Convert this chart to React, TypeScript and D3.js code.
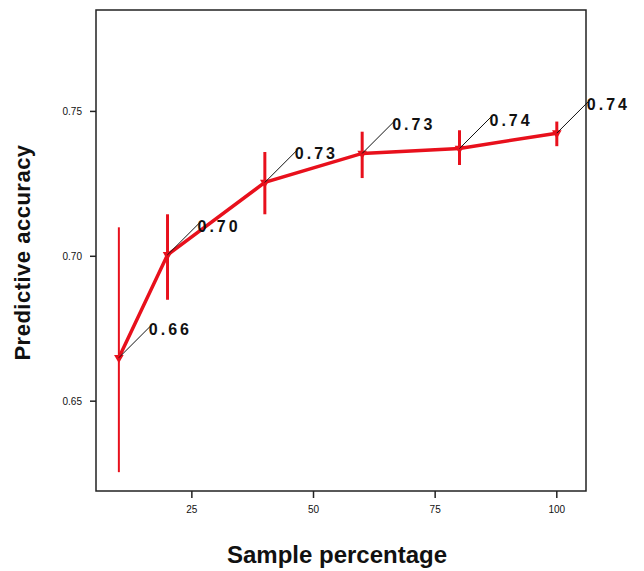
import React from "react";
import * as d3 from "d3";

// values
const samplePct = [10, 20, 40, 60, 80, 100];
const accuracy = [0.665, 0.7005, 0.7255, 0.7355, 0.7372, 0.7425];
const ciLow = [0.6255, 0.685, 0.7145, 0.727, 0.7315, 0.738];
const ciHigh = [0.71, 0.7145, 0.736, 0.743, 0.7435, 0.7465];
const pointLabels = ["0.66", "0.70", "0.73", "0.73", "0.74", "0.74"];
const xTicks = [25, 50, 75, 100];
const yTicks = [0.65, 0.7, 0.75];

const width = 644;
const height = 571;
const margin = { top: 10, right: 58, bottom: 80, left: 96 };
const red = "#e8101c";

export default function App() {
  const innerW = width - margin.left - margin.right;
  const innerH = height - margin.top - margin.bottom;

  const xScale = d3.scaleLinear().domain([5.3, 106]).range([0, innerW]);
  const yScale = d3.scaleLinear().domain([0.619, 0.785]).range([innerH, 0]);

  const rows = samplePct.map((x, i) => ({
    x,
    y: accuracy[i],
    lo: ciLow[i],
    hi: ciHigh[i],
    label: pointLabels[i],
  }));

  const line = d3
    .line<{ x: number; y: number }>()
    .x((d) => xScale(d.x))
    .y((d) => yScale(d.y));

  const tri = d3.symbol().type(d3.symbolTriangle).size(40)();

  return (
    <svg
      width={width}
      height={height}
      style={{ position: "absolute", left: 0, top: 0, background: "#fff" }}
      fontFamily="Arial, 'Liberation Sans', sans-serif"
    >
      <g transform={`translate(${margin.left},${margin.top})`}>
        <rect
          width={innerW}
          height={innerH}
          fill="none"
          stroke="#222"
          strokeWidth={1.5}
        />

        {/* y ticks */}
        {yTicks.map((t) => (
          <g key={t} transform={`translate(0,${yScale(t)})`}>
            <line x1={-6} x2={0} stroke="#222" strokeWidth={1.5} />
            <text x={-14} dy="0.35em" textAnchor="end" fontSize={10} fill="#111">
              {t.toFixed(2)}
            </text>
          </g>
        ))}

        {/* x ticks */}
        {xTicks.map((t) => (
          <g key={t} transform={`translate(${xScale(t)},${innerH})`}>
            <line y1={0} y2={7} stroke="#222" strokeWidth={1.5} />
            <text y={22} textAnchor="middle" fontSize={10} fill="#111">
              {t}
            </text>
          </g>
        ))}

        {/* error bars */}
        {rows.map((d, i) => (
          <line
            key={"e" + i}
            x1={xScale(d.x)}
            x2={xScale(d.x)}
            y1={yScale(d.lo)}
            y2={yScale(d.hi)}
            stroke={red}
            strokeWidth={i === 0 ? 2 : 3}
          />
        ))}

        {/* mean line */}
        <path d={line(rows) ?? ""} fill="none" stroke={red} strokeWidth={3.5} />

        {rows.map((d, i) => (
          <path
            key={"m" + i}
            d={tri ?? ""}
            transform={`translate(${xScale(d.x)},${yScale(d.y)}) rotate(180)`}
            fill={red}
          />
        ))}

        {/* value labels with leader lines */}
        {rows.map((d, i) => {
          const px = xScale(d.x);
          const py = yScale(d.y);
          return (
            <g key={"l" + i}>
              <line
                x1={px}
                y1={py}
                x2={px + 33}
                y2={py - 33}
                stroke="#111"
                strokeWidth={1}
              />
              <text
                x={px + 30}
                y={py - 23}
                fontSize={16}
                fontWeight="bold"
                fill="#111"
                letterSpacing={3}
              >
                {d.label}
              </text>
            </g>
          );
        })}
      </g>

      <text
        transform={`translate(30,${margin.top + innerH / 2 + 2}) rotate(-90)`}
        textAnchor="middle"
        fontSize={22}
        fontWeight="bold"
        fill="#111"
        letterSpacing={0.5}
      >
        Predictive accuracy
      </text>
      <text
        x={margin.left + innerW / 2 - 4}
        y={563}
        textAnchor="middle"
        fontSize={24}
        fontWeight="bold"
        fill="#111"
      >
        Sample percentage
      </text>
    </svg>
  );
}
